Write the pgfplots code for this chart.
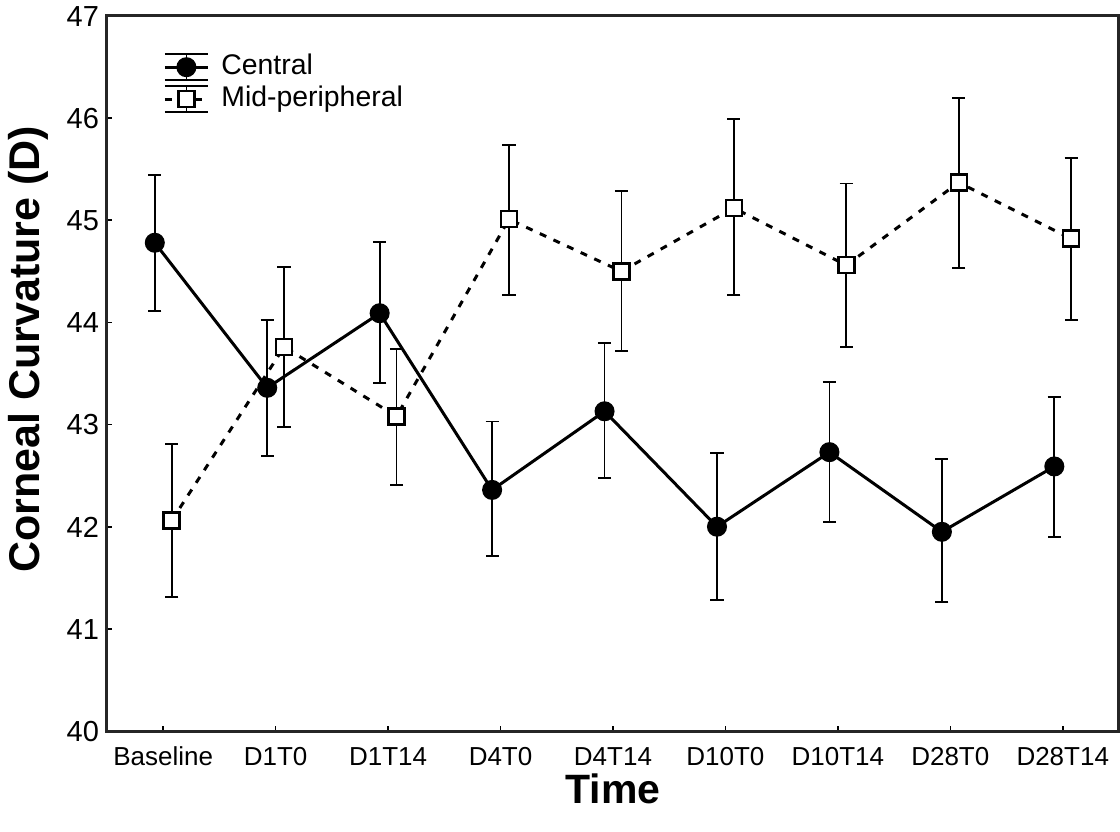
\documentclass[border=0pt]{standalone}
\usepackage{pgfplots}
\pgfplotsset{compat=1.18}
\usepackage{fontspec}
\setmainfont{Liberation Sans}

% central: x offset -0.075, mid-peripheral: +0.075
\pgfplotstableread{
x      y      ep    em
-0.075 44.78  0.66  0.67
0.925  43.36  0.66  0.67
1.925  44.09  0.70  0.68
2.925  42.36  0.67  0.65
3.925  43.13  0.67  0.65
4.925  42.00  0.72  0.72
5.925  42.73  0.69  0.68
6.925  41.95  0.71  0.69
7.925  42.59  0.68  0.69
}\central
\pgfplotstableread{
x      y      ep    em
0.075  42.06  0.75  0.75
1.075  43.76  0.78  0.78
2.075  43.08  0.66  0.67
3.075  45.01  0.73  0.74
4.075  44.50  0.79  0.78
5.075  45.12  0.87  0.85
6.075  44.56  0.80  0.80
7.075  45.37  0.83  0.84
8.075  44.82  0.79  0.80
}\midper

\begin{document}
\begin{tikzpicture}
\useasboundingbox (-53.5pt,-50pt) rectangle (506.5pt,365.5pt);
\begin{axis}[
    scale only axis,
    width=506pt,
    height=357.5pt,
    xmin=-0.5, xmax=8.5,
    ymin=40, ymax=47,
    xtick={0,...,8},
    xticklabels={Baseline,D1T0,D1T14,D4T0,D4T14,D10T0,D10T14,D28T0,D28T14},
    ytick={40,...,47},
    tick pos=left,
    tick align=inside,
    major tick length=2.5pt,
    tick style={line width=0.8pt, black},
    axis line style={line width=1.5pt, black!85},
    /pgf/number format/assume math mode=true,
    xticklabel style={font=\fontsize{13}{15}\selectfont, anchor=north, inner sep=0pt,
        text height=9.4pt, text depth=0pt, yshift=-7.5pt},
    yticklabel style={font=\fontsize{14.5}{17}\selectfont, text height=10.4pt, text depth=0pt, xshift=-0.5pt},
    xlabel={Time},
    ylabel={Corneal Curvature (D)},
    xlabel style={font=\fontsize{20.5}{25}\bfseries, at={(axis description cs:0.5,0)}, anchor=center,
        inner sep=0pt, text height=14.7pt, text depth=0pt, yshift=-29pt},
    ylabel style={font=\fontsize{21.5}{25}\bfseries, at={(axis description cs:-0.078,0.534)}, anchor=center},
    legend style={at={(axis description cs:0,1)}, anchor=north west, xshift=28pt, yshift=-18.5pt,
        draw=none, fill=none, inner sep=0pt, row sep=2.2pt,
        font=\fontsize{14.2}{16}\selectfont,
        nodes={inner sep=0pt, text height=10.5pt, text depth=3pt}},
    legend cell align=left,
    legend image code/.code={
        \draw[solid, line width=0.8pt, black] (0pt,-6.5pt) -- (21.5pt,-6.5pt) (0pt,6.5pt) -- (21.5pt,6.5pt) (10.75pt,-6.5pt) -- (10.75pt,6.5pt);
        \draw[mark repeat=2, mark phase=2, #1] plot coordinates {(0pt,0pt) (10.75pt,0pt) (21.5pt,0pt)};
        \path (27.5pt,0pt);
    },
]
\addplot[black, line width=1.5pt, mark=*, mark size=4.25pt,
    error bars/.cd, y dir=both, y explicit,
    error bar style={line width=0.9pt, solid},
    error mark options={rotate=90, mark size=3.3pt, line width=0.9pt}]
    table[x=x, y=y, y error plus=ep, y error minus=em] {\central};
\addlegendentry{Central}
\addplot[black, line width=1.5pt, dash pattern=on 3.5pt off 4pt,
    mark=square*, mark size=4pt, mark options={solid, fill=white, line width=1.2pt},
    error bars/.cd, y dir=both, y explicit,
    error bar style={line width=0.9pt, solid},
    error mark options={rotate=90, mark size=3.3pt, line width=0.9pt}]
    table[x=x, y=y, y error plus=ep, y error minus=em] {\midper};
\addlegendentry{Mid-peripheral}
\end{axis}
\end{tikzpicture}
\end{document}
